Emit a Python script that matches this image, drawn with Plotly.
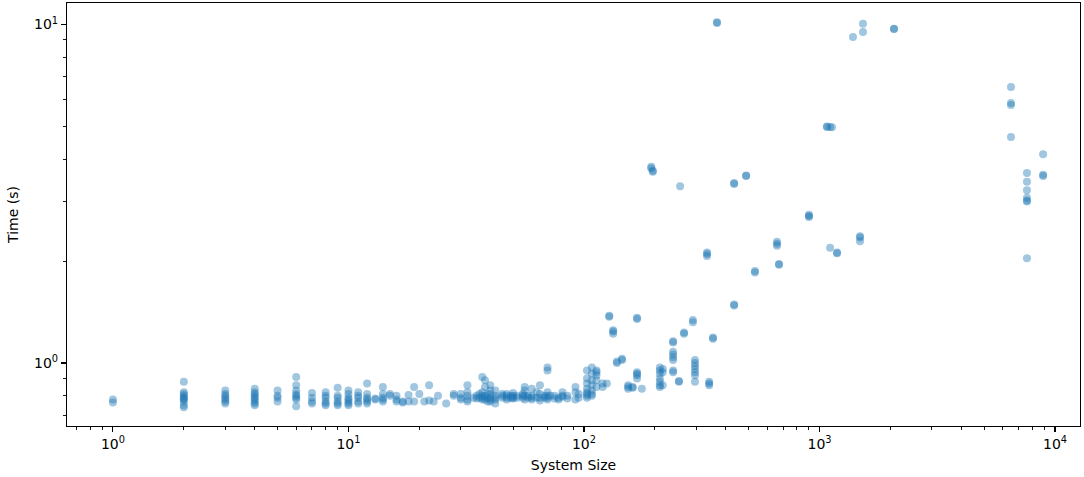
import plotly.graph_objects as go

# Measured runs: system size -> list of times (s)
sizes_low = [1, 2, 3, 4, 5, 6, 7, 8, 9, 10, 11, 12, 13, 14, 15, 16, 17, 18, 19, 20,
             21, 22, 23, 24, 26, 28, 30, 32, 34, 35, 36, 37, 38, 39, 40, 42, 45, 47,
             49, 50, 52, 55, 56, 58, 60, 63, 65, 68, 70, 72, 75, 78, 81, 85, 92, 95]
times_low = [
    [0.78, 0.765],
    [0.88, 0.82, 0.81, 0.80, 0.79, 0.785, 0.78, 0.77, 0.75, 0.74],
    [0.83, 0.81, 0.80, 0.79, 0.78, 0.77, 0.76],
    [0.84, 0.82, 0.81, 0.80, 0.79, 0.78, 0.77, 0.76, 0.75],
    [0.83, 0.80, 0.79, 0.77],
    [0.91, 0.86, 0.83, 0.81, 0.80, 0.79, 0.78, 0.745],
    [0.815, 0.79, 0.77, 0.76],
    [0.82, 0.80, 0.79, 0.77, 0.76, 0.75],
    [0.845, 0.80, 0.79, 0.77, 0.76, 0.75],
    [0.83, 0.81, 0.79, 0.78, 0.77, 0.76, 0.75],
    [0.82, 0.80, 0.79, 0.77, 0.76],
    [0.87, 0.81, 0.79, 0.78, 0.77, 0.76],
    [0.785, 0.78],
    [0.85, 0.81, 0.79, 0.78, 0.77],
    [0.81, 0.80],
    [0.80, 0.78, 0.77],
    [0.77, 0.765],
    [0.805, 0.77],
    [0.85, 0.77],
    [0.81],
    [0.77],
    [0.86, 0.775],
    [0.77],
    [0.80],
    [0.76],
    [0.80, 0.81],
    [0.81, 0.79, 0.78],
    [0.86, 0.82, 0.80, 0.78, 0.77],
    [0.79],
    [0.785, 0.80],
    [0.81, 0.79],
    [0.91, 0.82, 0.80, 0.79, 0.78],
    [0.89, 0.85, 0.80, 0.78],
    [0.81, 0.79, 0.77],
    [0.86, 0.83, 0.81, 0.79, 0.78, 0.77],
    [0.83, 0.80, 0.79, 0.78, 0.76],
    [0.81, 0.80, 0.79],
    [0.81, 0.80, 0.79, 0.78],
    [0.80, 0.79],
    [0.815, 0.80, 0.79, 0.785],
    [0.80, 0.79],
    [0.81, 0.80, 0.79],
    [0.85, 0.83, 0.80, 0.78],
    [0.80, 0.79],
    [0.84, 0.80, 0.79, 0.78],
    [0.82, 0.79],
    [0.86, 0.81, 0.79, 0.775],
    [0.80, 0.79],
    [0.97, 0.95, 0.82, 0.80, 0.79, 0.78],
    [0.80],
    [0.80, 0.785],
    [0.79, 0.78],
    [0.82, 0.80, 0.795],
    [0.80, 0.785],
    [0.85, 0.82, 0.78],
    [0.81, 0.79],
]

sizes_high = [103, 108, 113, 120, 125, 128, 133, 138, 145, 154, 161, 168, 176, 193, 196,
              210, 216, 239, 253, 256, 266, 290, 296, 333, 340, 353, 367, 434, 488, 532,
              660, 673, 902, 1076, 1109, 1130, 1187, 1387, 1486, 1530, 2071, 6500, 7600, 8900]
times_high = [
    [0.95, 0.90, 0.87, 0.84, 0.82, 0.81, 0.80, 0.79],
    [0.97, 0.93, 0.89, 0.86, 0.83, 0.81, 0.80],
    [0.95, 0.94, 0.92, 0.89, 0.85],
    [0.87, 0.85],
    [0.87],
    [1.38, 1.37],
    [1.25, 1.24, 1.22],
    [1.01, 1.0],
    [1.03, 1.02],
    [0.86, 0.85, 0.84],
    [0.85, 0.845],
    [1.36, 1.35, 0.94, 0.93, 0.92, 0.90],
    [0.84],
    [3.80, 3.76],
    [3.70, 3.67],
    [0.97, 0.95, 0.93, 0.90, 0.88, 0.86, 0.85],
    [0.96, 0.94, 0.86],
    [1.16, 1.15, 1.08, 1.06, 1.04, 1.02, 0.95, 0.94],
    [0.885, 0.88],
    [3.33],
    [1.23, 1.22],
    [1.34, 1.32],
    [1.02, 1.0, 0.98, 0.96, 0.94, 0.92, 0.88],
    [2.12, 2.10, 2.07],
    [0.88, 0.87, 0.86],
    [1.19, 1.18],
    [10.15, 10.1],
    [3.38, 3.40, 1.49, 1.48],
    [3.57, 3.58],
    [1.87, 1.85],
    [2.28, 2.25, 2.22],
    [1.96, 1.95],
    [2.74, 2.72, 2.70],
    [5.0, 4.98],
    [4.98, 2.19],
    [4.97],
    [2.12, 2.11],
    [9.19],
    [2.37, 2.35, 2.29],
    [10.05, 9.5],
    [9.72, 9.70],
    [6.54, 5.86, 5.78, 4.65],
    [3.64, 3.43, 3.24, 3.08, 3.02, 3.0, 2.04],
    [4.14, 3.60, 3.57],
]

x_ticks = [1, 10, 100, 1000, 10000]
x_ticklabels = ["10<sup>0</sup>", "10<sup>1</sup>", "10<sup>2</sup>", "10<sup>3</sup>", "10<sup>4</sup>"]
y_ticks = [1, 10]
y_ticklabels = ["10<sup>0</sup>", "10<sup>1</sup>"]

xs, ys = [], []
for s, ts in list(zip(sizes_low, times_low)) + list(zip(sizes_high, times_high)):
    for t in ts:
        xs.append(s)
        ys.append(t)

x_minor = [m * 10 ** e for e in range(-1, 5) for m in range(2, 10)]
y_minor = [m * 10 ** e for e in range(-1, 2) for m in range(2, 10)]

fig = go.Figure()
fig.add_trace(go.Scatter(
    x=xs, y=ys, mode="markers",
    marker=dict(size=8, color="rgba(31,119,180,0.42)", line=dict(width=0)),
    hoverinfo="skip",
))

font = dict(family="DejaVu Sans", size=14, color="black")
axis_common = dict(
    type="log", showgrid=False, zeroline=False, showline=True, mirror=True,
    linecolor="black", linewidth=1.1, ticks="outside", ticklen=5, tickwidth=1.1,
    tickcolor="black", tickfont=font, automargin=False,
)
fig.update_layout(
    width=1084, height=477,
    margin=dict(l=67, r=4, t=3, b=51),
    paper_bgcolor="white", plot_bgcolor="white",
    showlegend=False,
    font=font,
    xaxis=dict(
        **axis_common, range=[-0.195, 4.106],
        tickmode="array", tickvals=x_ticks, ticktext=x_ticklabels,
        minor=dict(tickmode="array", tickvals=x_minor, ticks="outside", ticklen=3,
                   tickwidth=0.9, tickcolor="black"),
        title=dict(text="System Size", font=font, standoff=9),
    ),
    yaxis=dict(
        **axis_common, range=[-0.186, 1.0635],
        tickmode="array", tickvals=y_ticks, ticktext=y_ticklabels,
        minor=dict(tickmode="array", tickvals=y_minor, ticks="outside", ticklen=3,
                   tickwidth=0.9, tickcolor="black"),
        title=dict(text="Time (s)", font=font, standoff=12),
    ),
)
fig.write_html(
    "out.html",
    config={"displayModeBar": False, "staticPlot": True},
    post_script="document.body.style.margin='0';document.body.style.overflow='hidden';",
)
